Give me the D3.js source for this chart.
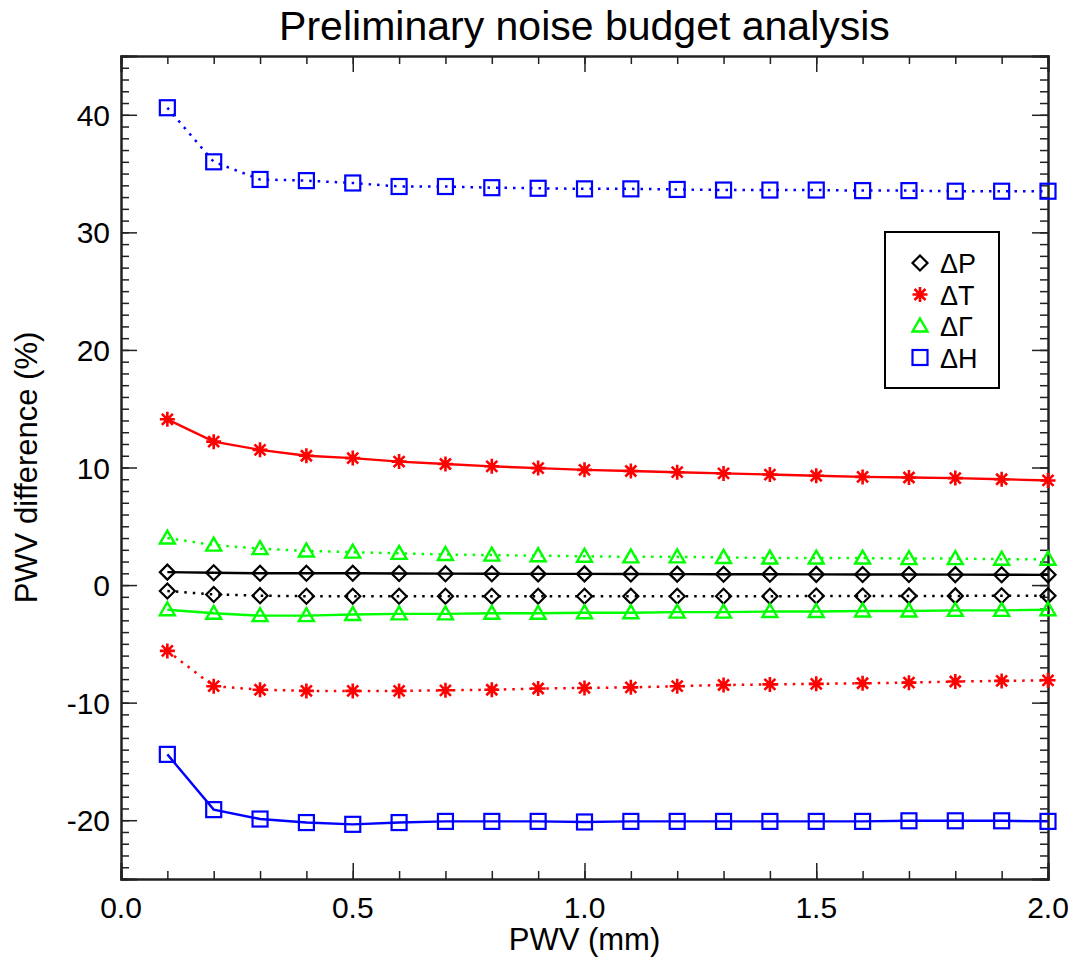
<!DOCTYPE html>
<html>
<head>
<meta charset="utf-8">
<script src="https://cdn.jsdelivr.net/npm/d3@7"></script>
<style>
  body { margin: 0; background: #fff; }
  text { font-family: "Liberation Sans", Arial, sans-serif; }
</style>
</head>
<body>
<div id="chart"></div>
<script>
// PWV grid (mm)
const pwv = [0.1,0.2,0.3,0.4,0.5,0.6,0.7,0.8,0.9,1.0,1.1,1.2,1.3,1.4,1.5,1.6,1.7,1.8,1.9,2.0];

// PWV difference (%) for each perturbation, upper (+) and lower (-) branch
const dP_pos = [1.1,1.05,1.0,1.0,1.0,0.98,0.97,0.96,0.95,0.95,0.94,0.93,0.92,0.92,0.91,0.9,0.9,0.89,0.88,0.87];
const dP_neg = [-0.5,-0.8,-0.9,-0.95,-0.95,-0.95,-0.95,-0.95,-0.95,-0.95,-0.95,-0.95,-0.95,-0.95,-0.93,-0.93,-0.92,-0.92,-0.91,-0.9];
const dT_pos = [14.1,12.2,11.5,11.0,10.8,10.5,10.3,10.1,9.95,9.8,9.7,9.6,9.5,9.4,9.3,9.2,9.15,9.1,9.0,8.9];
const dT_neg = [-5.6,-8.6,-8.9,-9.0,-9.0,-9.0,-8.95,-8.9,-8.8,-8.75,-8.7,-8.6,-8.5,-8.45,-8.4,-8.35,-8.3,-8.2,-8.15,-8.1];
const dG_pos = [4.0,3.4,3.1,2.9,2.8,2.7,2.6,2.55,2.5,2.45,2.4,2.4,2.35,2.3,2.3,2.3,2.25,2.25,2.2,2.2];
const dG_neg = [-2.1,-2.4,-2.6,-2.6,-2.5,-2.45,-2.45,-2.4,-2.4,-2.35,-2.35,-2.3,-2.3,-2.25,-2.25,-2.2,-2.2,-2.15,-2.15,-2.1];
const dH_pos = [40.6,36.0,34.5,34.4,34.2,33.9,33.9,33.8,33.75,33.7,33.7,33.65,33.6,33.6,33.6,33.55,33.55,33.5,33.5,33.5];
const dH_neg = [-14.4,-19.1,-19.9,-20.2,-20.35,-20.2,-20.1,-20.1,-20.1,-20.15,-20.1,-20.1,-20.1,-20.1,-20.1,-20.1,-20.05,-20.05,-20.05,-20.1];

const xTicks = [0.0, 0.5, 1.0, 1.5, 2.0];
const yTicks = [-20, -10, 0, 10, 20, 30, 40];

const series = [
  {name: "P", color: "#000", sym: "diamond", values: dP_pos, dotted: false},
  {name: "P", color: "#000", sym: "diamond", values: dP_neg, dotted: true},
  {name: "T", color: "#ff0000", sym: "star", values: dT_pos, dotted: false},
  {name: "T", color: "#ff0000", sym: "star", values: dT_neg, dotted: true},
  {name: "Γ", color: "#00ff00", sym: "triangle", values: dG_pos, dotted: true},
  {name: "Γ", color: "#00ff00", sym: "triangle", values: dG_neg, dotted: false},
  {name: "H", color: "#0000ff", sym: "square", values: dH_pos, dotted: true},
  {name: "H", color: "#0000ff", sym: "square", values: dH_neg, dotted: false}
];
const legendItems = [
  {label: "ΔP", color: "#000", sym: "diamond"},
  {label: "ΔT", color: "#ff0000", sym: "star"},
  {label: "ΔΓ", color: "#00ff00", sym: "triangle"},
  {label: "ΔH", color: "#0000ff", sym: "square"}
];

const W = 1078, H = 964;
const margin = {top: 56, right: 30, bottom: 85, left: 121};
const width = W - margin.left - margin.right,
      height = H - margin.top - margin.bottom;

const svg = d3.select("#chart").append("svg")
  .attr("width", W).attr("height", H);
const g = svg.append("g").attr("transform", `translate(${margin.left},${margin.top})`);

const x = d3.scaleLinear().domain([0, 2]).range([0, width]);
const y = d3.scaleLinear().domain([-25, 45]).range([height, 0]);

// Title
svg.append("text")
  .attr("x", margin.left + width / 2).attr("y", 40)
  .attr("text-anchor", "middle").style("font-size", "41px")
  .text("Preliminary noise budget analysis");

// axes with IDL-like ticks on all four sides
const axisColor = "#222";
const xMinor = d3.range(0, 2.0001, 0.1);
const yMinor = d3.range(-25, 45.0001, 1);

function styleAxis(sel) {
  sel.select(".domain").attr("stroke", axisColor).attr("stroke-width", 2);
  sel.selectAll(".tick line").attr("stroke", axisColor).attr("stroke-width", 1.5);
}

// minor ticks
g.append("g").attr("transform", `translate(0,${height})`)
  .call(d3.axisTop(x).tickValues(xMinor).tickSize(8).tickFormat("")).call(styleAxis);
g.append("g")
  .call(d3.axisBottom(x).tickValues(xMinor).tickSize(8).tickFormat("")).call(styleAxis);
g.append("g")
  .call(d3.axisRight(y).tickValues(yMinor).tickSize(8).tickFormat("")).call(styleAxis);
g.append("g").attr("transform", `translate(${width},0)`)
  .call(d3.axisLeft(y).tickValues(yMinor).tickSize(8).tickFormat("")).call(styleAxis);

// major ticks
g.append("g").attr("transform", `translate(0,${height})`)
  .call(d3.axisTop(x).tickValues(xTicks).tickSize(16).tickFormat("")).call(styleAxis);
g.append("g")
  .call(d3.axisBottom(x).tickValues(xTicks).tickSize(16).tickFormat("")).call(styleAxis);
g.append("g")
  .call(d3.axisRight(y).tickValues(yTicks).tickSize(16).tickFormat("")).call(styleAxis);
g.append("g").attr("transform", `translate(${width},0)`)
  .call(d3.axisLeft(y).tickValues(yTicks).tickSize(16).tickFormat("")).call(styleAxis);

// tick labels
g.selectAll(".xlab").data(xTicks).enter().append("text")
  .attr("x", d => x(d)).attr("y", height + 39)
  .attr("text-anchor", "middle").style("font-size", "30px")
  .text(d => d.toFixed(1));
g.selectAll(".ylab").data(yTicks).enter().append("text")
  .attr("x", -11).attr("y", d => y(d) + 11)
  .attr("text-anchor", "end").style("font-size", "30px")
  .text(d => d);

// axis titles
svg.append("text")
  .attr("x", margin.left + width / 2).attr("y", 950)
  .attr("text-anchor", "middle").style("font-size", "31px")
  .text("PWV (mm)");
svg.append("text")
  .attr("transform", `translate(37,${margin.top + height / 2}) rotate(-90)`)
  .attr("text-anchor", "middle").style("font-size", "31px")
  .text("PWV difference (%)");

// markers
function drawSymbol(sel, sym, color) {
  if (sym === "diamond") {
    sel.append("path").attr("d", "M0,-7.5L7.5,0L0,7.5L-7.5,0Z")
      .attr("fill", "none").attr("stroke", color).attr("stroke-width", 2.2);
  } else if (sym === "square") {
    sel.append("rect").attr("x", -7.5).attr("y", -7.5).attr("width", 15).attr("height", 15)
      .attr("fill", "none").attr("stroke", color).attr("stroke-width", 2.2);
  } else if (sym === "triangle") {
    sel.append("path").attr("d", "M0,-7.5L7.5,5.5L-7.5,5.5Z")
      .attr("fill", "none").attr("stroke", color).attr("stroke-width", 2.4);
  } else if (sym === "star") {
    sel.append("path").attr("d", "M0,-7.5V7.5M-7.5,0H7.5M-5.5,-5.5L5.5,5.5M-5.5,5.5L5.5,-5.5")
      .attr("fill", "none").attr("stroke", color).attr("stroke-width", 2.6);
  }
}

const line = d3.line().x((d, i) => x(pwv[i])).y(d => y(d));

series.forEach(s => {
  g.append("path")
    .datum(s.values)
    .attr("fill", "none")
    .attr("stroke", s.color)
    .attr("stroke-width", s.dotted ? 2.5 : 2.4)
    .attr("stroke-dasharray", s.dotted ? "2.5,6" : null)
    .attr("d", line);
  s.values.forEach((v, i) => {
    const m = g.append("g").attr("transform", `translate(${x(pwv[i])},${y(v)})`);
    drawSymbol(m, s.sym, s.color);
  });
});

// legend
const lg = svg.append("g").attr("transform", "translate(885,232)");
lg.append("rect").attr("width", 114).attr("height", 156)
  .attr("fill", "#fff").attr("stroke", "#000").attr("stroke-width", 2);
legendItems.forEach((d, i) => {
  const row = lg.append("g").attr("transform", `translate(35,${31 + i * 31.5})`);
  drawSymbol(row, d.sym, d.color);
  row.append("text").attr("x", 20).attr("y", 10)
    .style("font-size", "27px").text(d.label);
});
</script>
</body>
</html>
